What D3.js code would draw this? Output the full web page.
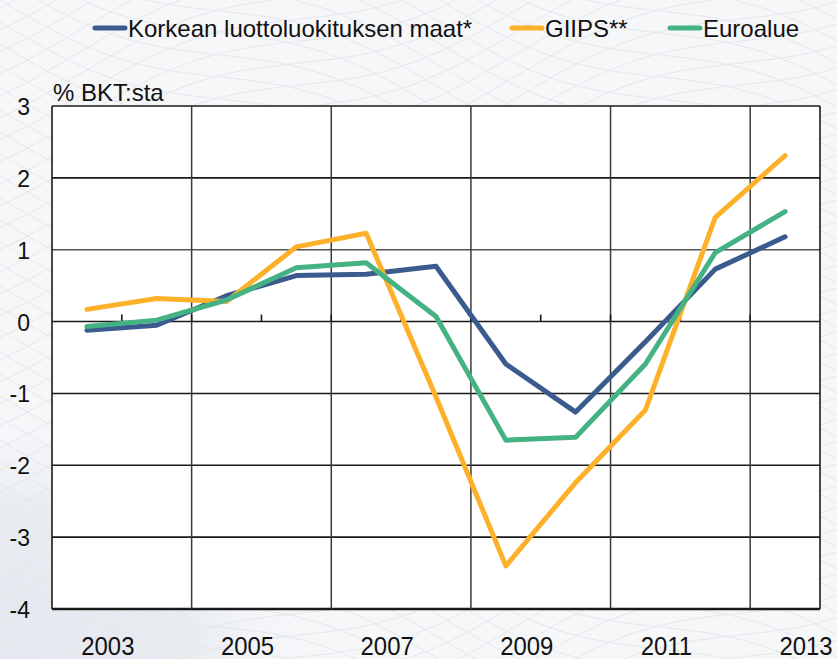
<!DOCTYPE html>
<html lang="fi">
<head>
<meta charset="UTF-8">
<title>Julkisen talouden rahoitusasema</title>
<script src="https://d3js.org/d3.v7.min.js"></script>
<style>
  body { margin: 0; background: #f4f5f7; }
  svg { display: block; }
  text { font-family: "Liberation Sans", Arial, sans-serif; fill: #111; }
</style>
</head>
<body>
<svg id="chart" width="837" height="659"></svg>
<script>
// data
var years = [2003, 2004, 2005, 2006, 2007, 2008, 2009, 2010, 2011, 2012, 2013];
var yearLabels = [2003, 2005, 2007, 2009, 2011, 2013];
var yTicks = [3, 2, 1, 0, -1, -2, -3, -4];

var korkea = [-0.12, -0.05, 0.36, 0.64, 0.66, 0.77, -0.59, -1.26, -0.28, 0.73, 1.18];
var giips  = [0.17, 0.32, 0.28, 1.04, 1.23, -1.05, -3.40, -2.24, -1.23, 1.45, 2.31];
var euro   = [-0.07, 0.02, 0.30, 0.75, 0.82, 0.07, -1.65, -1.61, -0.59, 0.96, 1.53];

var seriesNames = ["Korkean luottoluokituksen maat*", "GIIPS**", "Euroalue"];
var seriesColors = ["#3b5a8e", "#fdb12a", "#45b283"];
var seriesValues = [korkea, giips, euro];

var svg = d3.select("#chart"),
    width = +svg.attr("width"),
    height = +svg.attr("height");

var margin = {top: 106, right: 17, bottom: 50, left: 52};

// faint guilloche-ish background
var bg = svg.append("g").attr("class", "bg");
bg.append("rect").attr("width", width).attr("height", height).attr("fill", "#f6f7f9");
var grad = svg.append("defs").append("radialGradient")
    .attr("id", "tint").attr("cx", "0%").attr("cy", "100%").attr("r", "100%");
grad.append("stop").attr("offset", "0%").attr("stop-color", "#e3e8ef");
grad.append("stop").attr("offset", "60%").attr("stop-color", "#e9edf2");
grad.append("stop").attr("offset", "100%").attr("stop-color", "#f6f7f9").attr("stop-opacity", 0);
bg.append("rect")
    .attr("x", 0).attr("y", 400).attr("width", 330).attr("height", 259)
    .attr("fill", "url(#tint)");
var wave = d3.line().curve(d3.curveBasis);
for (var k = -20; k < 40; k++) {
  var pts1 = [], pts2 = [];
  for (var t = 0; t <= 24; t++) {
    var xx = t * 40 - 60;
    pts1.push([xx, k * 22 + 18 * Math.sin(xx / 70) + xx * 0.35]);
    pts2.push([xx, k * 22 + 18 * Math.sin(xx / 70 + 2) - xx * 0.35 + 300]);
  }
  bg.append("path").attr("d", wave(pts1)).attr("fill", "none").attr("stroke", "#e5e7eb").attr("stroke-width", 1);
  bg.append("path").attr("d", wave(pts2)).attr("fill", "none").attr("stroke", "#e5e7eb").attr("stroke-width", 1);
}

var x = d3.scaleBand()
    .domain(years)
    .range([margin.left, width - margin.right])
    .padding(0);

var y = d3.scaleLinear()
    .domain([-4, 3])
    .range([height - margin.bottom, margin.top]);

var cx = function(d) { return x(d) + x.bandwidth() / 2; };

// plot area
svg.append("rect")
    .attr("x", margin.left)
    .attr("y", y(3))
    .attr("width", width - margin.right - margin.left)
    .attr("height", y(-4) - y(3))
    .attr("fill", "#fff");

// horizontal grid
svg.append("g")
    .selectAll("line")
    .data(yTicks)
    .enter().append("line")
    .attr("x1", margin.left)
    .attr("x2", width - margin.right)
    .attr("y1", function(d) { return y(d); })
    .attr("y2", function(d) { return y(d); })
    .attr("stroke", function(d) { return d === 1 ? "#555" : "#1a1a1a"; })
    .attr("stroke-width", function(d) { return d === -4 ? 2.5 : 1.6; });

// vertical grid every second year
var gridYears = [2005, 2007, 2009, 2011, 2013];
svg.append("g")
    .selectAll("line")
    .data(gridYears)
    .enter().append("line")
    .attr("x1", function(d) { return x(d); })
    .attr("x2", function(d) { return x(d); })
    .attr("y1", y(3))
    .attr("y2", y(-4))
    .attr("stroke", "#3a3a3a")
    .attr("stroke-width", 1.5);

// frame sides
svg.append("line")
    .attr("x1", margin.left).attr("x2", margin.left)
    .attr("y1", y(3)).attr("y2", y(-4))
    .attr("stroke", "#1a1a1a").attr("stroke-width", 1.6);
svg.append("line")
    .attr("x1", width - margin.right).attr("x2", width - margin.right)
    .attr("y1", y(3)).attr("y2", y(-4))
    .attr("stroke", "#1a1a1a").attr("stroke-width", 1.6);

// ticks on the zero line
svg.append("g")
    .selectAll("line")
    .data(years.slice(1))
    .enter().append("line")
    .attr("x1", function(d) { return x(d); })
    .attr("x2", function(d) { return x(d); })
    .attr("y1", y(0))
    .attr("y2", y(0) - 7)
    .attr("stroke", "#1a1a1a")
    .attr("stroke-width", 1.6);

// y labels
svg.append("g")
    .selectAll("text")
    .data(yTicks)
    .enter().append("text")
    .attr("x", 30)
    .attr("y", function(d) { return y(d) + 9; })
    .attr("text-anchor", "end")
    .style("font-size", "23px")
    .text(function(d) { return d; });

// x labels (slightly condensed like the original)
svg.append("g")
    .selectAll("text")
    .data(yearLabels)
    .enter().append("text")
    .attr("transform", function(d) {
      return "translate(" + (cx(d) + x.bandwidth() * 0.3) + ",655) scale(0.92,1)";
    })
    .attr("text-anchor", "middle")
    .style("font-size", "26px")
    .text(function(d) { return d; });

// unit
svg.append("text")
    .attr("x", 53)
    .attr("y", 101)
    .style("font-size", "24px")
    .text("% BKT:sta");

// lines
var line = d3.line()
    .x(function(d, i) { return cx(years[i]); })
    .y(function(d) { return y(d); });

seriesValues.forEach(function(vals, i) {
  svg.append("path")
      .datum(vals)
      .attr("d", line)
      .attr("fill", "none")
      .attr("stroke", seriesColors[i])
      .attr("stroke-width", 5)
      .attr("stroke-linejoin", "round")
      .attr("stroke-linecap", "round");
});

// legend
var legendX = [95, 512, 670];
var legend = svg.append("g");
seriesNames.forEach(function(name, i) {
  legend.append("line")
      .attr("x1", legendX[i]).attr("x2", legendX[i] + 30)
      .attr("y1", 28).attr("y2", 28)
      .attr("stroke", seriesColors[i])
      .attr("stroke-width", 5)
      .attr("stroke-linecap", "round");
  legend.append("text")
      .attr("x", legendX[i] + 33)
      .attr("y", 37)
      .style("font-size", "24px")
      .text(name);
});
</script>
</body>
</html>
